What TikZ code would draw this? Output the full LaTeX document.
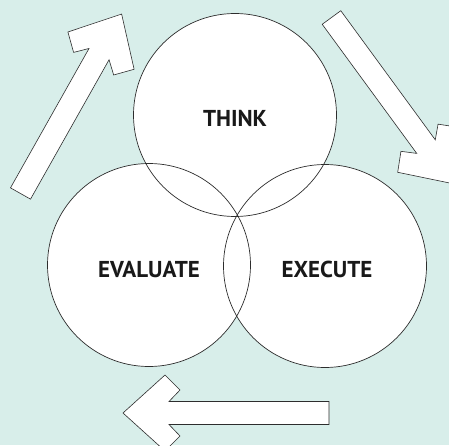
\documentclass[tikz,border=0pt]{standalone}
\usepackage{fontspec}
\setmainfont{PT Sans}
\definecolor{mint}{RGB}{216,238,234}
\definecolor{ink}{RGB}{45,45,45}
\tikzset{
  bubble/.style={circle, draw=ink, line width=0.7pt, minimum size=203pt, inner sep=0pt},
  word/.style={font=\bfseries\fontsize{23}{23}\selectfont, text=black!90, inner sep=0pt},
  blockarrow/.style={fill=white, draw=ink, line width=0.6pt, line join=miter}
}
\begin{document}
\begin{tikzpicture}[x=1pt, y=1pt]
\useasboundingbox (0,0) rectangle (449,445);
\clip (0,0) rectangle (449,445);
\fill[mint] (0,0) rectangle (449,445);

% the three arrows round the circles
\foreach \x/\y/\a in {20.5/251.5/60.6, 331.5/427.5/-53.8, 329/32/180}
  \draw[blockarrow, shift={(\x,\y)}, rotate=\a]
    (0,-11.5) -- (160,-11.5) -- (149,-23) -- (164,-38) -- (206,0)
    -- (164,38) -- (149,23) -- (160,11.5) -- (0,11.5) -- cycle;

\coordinate (t) at (235,330);
\coordinate (v) at (149,180);
\coordinate (e) at (325,179);
\foreach \c in {t,v,e}
  \fill[white] (\c) circle (101.5);

\node[bubble] (think) at (t) {};
\node[bubble] (evaluate) at (v) {};
\node[bubble] (execute) at (e) {};

\node[word] (thinktext) at ([yshift=-3.5pt]think.center) {THINK};
\node[word] (evaluatetext) at ([yshift=-4.5pt]evaluate.center) {EVALUATE};
\node[word] (executetext) at ([xshift=2pt,yshift=-3.5pt]execute.center) {EXECUTE};

\end{tikzpicture}
\end{document}
